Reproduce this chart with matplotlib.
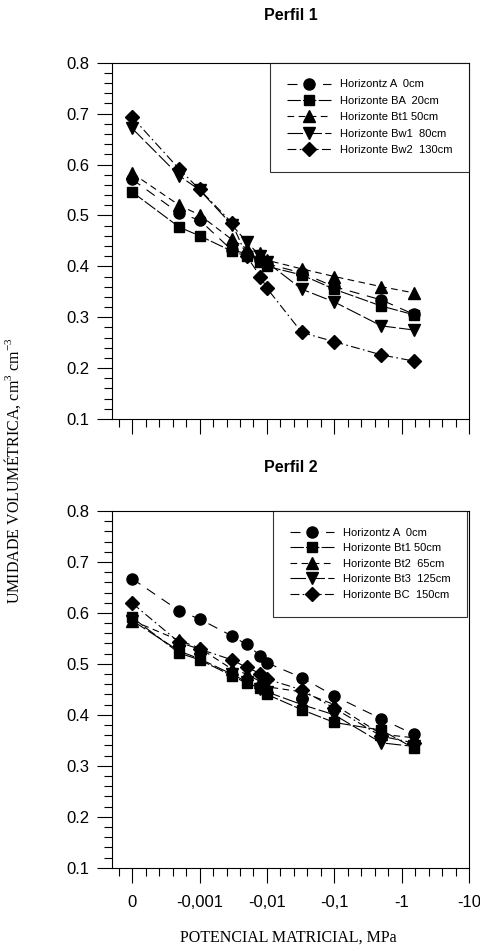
import numpy as np
from matplotlib import pyplot as plt
from matplotlib.ticker import MultipleLocator

# matric potential (MPa) of each measurement
potencial = np.array([0, -0.0005, -0.001, -0.003, -0.005, -0.008, -0.01,
                      -0.033, -0.1, -0.5, -1.5])

# Perfil 1
p1_labels = ["Horizontz A  0cm", "Horizonte BA  20cm", "Horizonte Bt1 50cm",
             "Horizonte Bw1  80cm", "Horizonte Bw2  130cm"]
p1_A = [0.571, 0.504, 0.491, 0.432, 0.425, 0.412, 0.405, 0.387, 0.360, 0.334, 0.306]
p1_BA = [0.546, 0.477, 0.460, 0.430, 0.420, 0.409, 0.400, 0.383, 0.355, 0.322, 0.305]
p1_Bt1 = [0.583, 0.520, 0.501, 0.453, 0.435, 0.426, 0.412, 0.395, 0.380, 0.360, 0.348]
p1_Bw1 = [0.671, 0.578, 0.550, 0.482, 0.448, 0.420, 0.408, 0.355, 0.330, 0.283, 0.275]
p1_Bw2 = [0.693, 0.591, 0.551, 0.486, 0.420, 0.380, 0.357, 0.270, 0.252, 0.226, 0.214]

# Perfil 2
p2_labels = ["Horizontz A  0cm", "Horizonte Bt1 50cm", "Horizonte Bt2  65cm",
             "Horizonte Bt3  125cm", "Horizonte BC  150cm"]
p2_A = [0.667, 0.604, 0.588, 0.555, 0.538, 0.516, 0.502, 0.473, 0.437, 0.392, 0.362]
p2_Bt1 = [0.591, 0.521, 0.508, 0.477, 0.462, 0.453, 0.440, 0.410, 0.385, 0.370, 0.335]
p2_Bt2 = [0.585, 0.546, 0.531, 0.490, 0.480, 0.465, 0.455, 0.445, 0.420, 0.362, 0.355]
p2_Bt3 = [0.585, 0.525, 0.510, 0.480, 0.465, 0.450, 0.445, 0.420, 0.400, 0.345, 0.338]
p2_BC = [0.619, 0.542, 0.529, 0.508, 0.493, 0.481, 0.470, 0.449, 0.413, 0.358, 0.345]

tick_pot = [0, -0.001, -0.01, -0.1, -1, -10]
tick_labels = ["0", "-0,001", "-0,01", "-0,1", "-1", "-10"]


def to_pos(p):
    # log axis of |potential|, with 0 drawn one decade before 0.001
    p = np.asarray(p, dtype=float)
    mag = np.where(p == 0, 1e-4, np.abs(p))
    return np.log10(mag) + 4


markers = ["o", "s", "^", "v", "D"]
dashes = [(9, 7), (12, 2), (6, 4), (14, 3), (8, 3, 1.5, 3)]
msizes = [8, 7.5, 8, 8, 7]

fig = plt.figure(figsize=(4.8, 9.51), dpi=100)
ax1 = fig.add_axes([0.2333, 0.5594, 0.7438, 0.3746])
ax2 = fig.add_axes([0.2333, 0.0876, 0.7438, 0.3751])

x = to_pos(potencial)

panels = [
    (ax1, "Perfil 1", [p1_A, p1_BA, p1_Bt1, p1_Bw1, p1_Bw2], p1_labels, 8.0, 1.0, 0.58, 31),
    (ax2, "Perfil 2", [p2_A, p2_Bt1, p2_Bt2, p2_Bt3, p2_BC], p2_labels, 8.0, 0.995, 0.5, 28),
]

for ax, title, series, labels, lfs, lx, lsp, tpad in panels:
    for y, lab, m, d, ms in zip(series, labels, markers, dashes, msizes):
        ax.plot(x, y, color="black", lw=0.8, dashes=d, marker=m,
                markersize=ms, label=lab)
    ax.set_xlim(-0.3, 5.0)
    ax.set_ylim(0.1, 0.8)
    ax.yaxis.set_major_locator(MultipleLocator(0.1))
    ax.yaxis.set_minor_locator(MultipleLocator(0.02))
    ax.set_xticks(to_pos(tick_pot))
    ax.xaxis.set_minor_locator(MultipleLocator(0.2))
    ax.tick_params(axis="both", which="major", direction="out", length=11,
                   width=0.8, labelsize=12)
    ax.tick_params(axis="x", which="major", pad=9)
    ax.tick_params(axis="y", which="major", pad=5)
    ax.tick_params(axis="both", which="minor", direction="out", length=6,
                   width=0.8)
    ax.set_title(title, fontsize=11.5, fontweight="bold", family="Liberation Sans",
                 pad=tpad)
    for lbl in ax.get_yticklabels():
        lbl.set_family("Liberation Sans")
    leg = ax.legend(loc="upper right", bbox_to_anchor=(lx, 1.0),
                    borderaxespad=0.0, fancybox=False, edgecolor="black",
                    handlelength=4.0, labelspacing=lsp,
                    borderpad=1.5, handletextpad=0.8,
                    prop={"family": "Liberation Sans", "size": lfs})
    leg.get_frame().set_linewidth(0.8)

ax1.set_xticklabels([])
ax2.set_xticklabels(tick_labels, family="Liberation Sans")

fig.text(0.6, 0.006, "POTENCIAL MATRICIAL, MPa", ha="center", va="bottom",
         fontsize=11.5, family="Liberation Serif")
fig.text(0.027, 0.505,
         r"UMIDADE VOLUMÉTRICA, cm$^{\mathregular{3}}$ cm$^{\mathregular{-3}}$",
         rotation=90, ha="center", va="center", fontsize=11.5,
         family="Liberation Serif")

fig.savefig("out.png", dpi=100)
